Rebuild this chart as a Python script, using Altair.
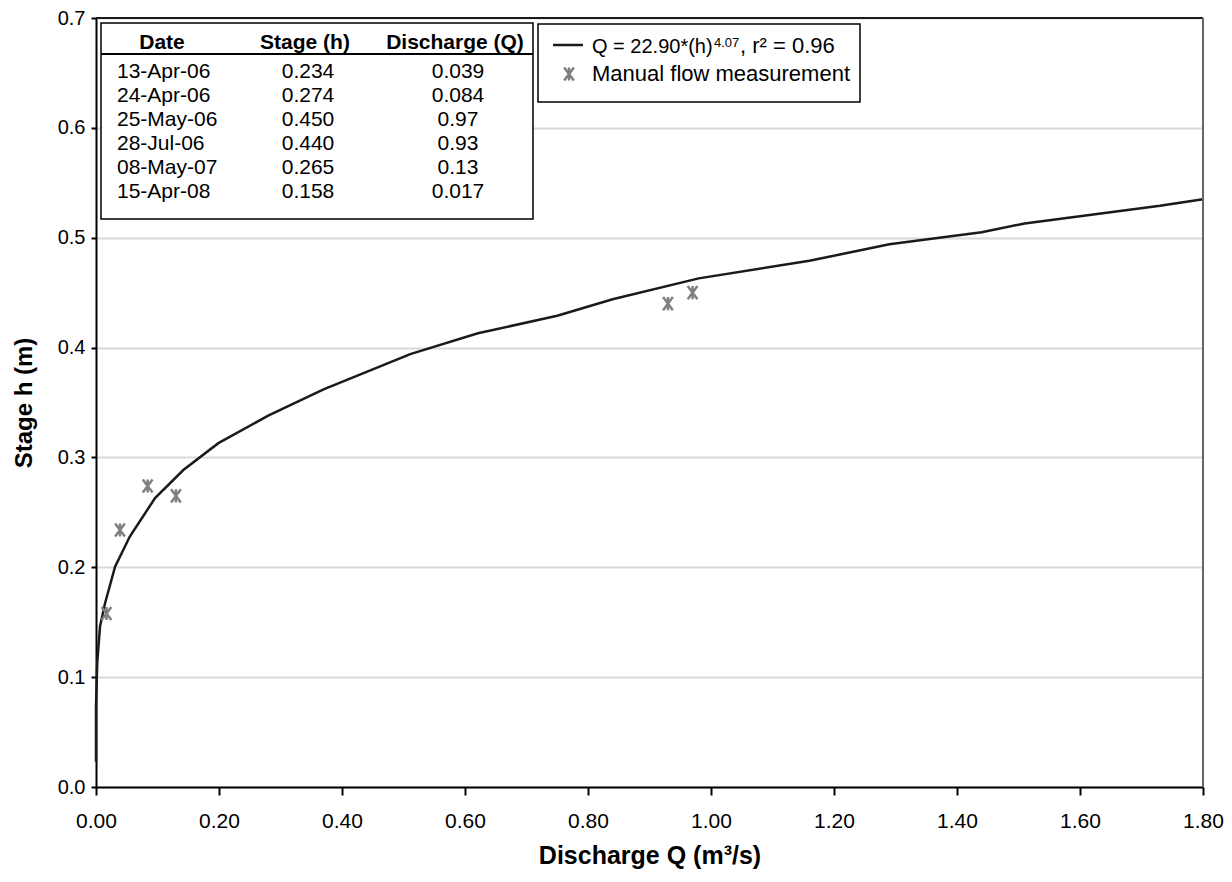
import altair as alt
import pandas as pd

# ---- manual flow measurements (table + points) ----
dates = ["13-Apr-06", "24-Apr-06", "25-May-06", "28-Jul-06", "08-May-07", "15-Apr-08"]
stage = [0.234, 0.274, 0.450, 0.440, 0.265, 0.158]
discharge = [0.039, 0.084, 0.97, 0.93, 0.13, 0.017]
stage_txt = ["0.234", "0.274", "0.450", "0.440", "0.265", "0.158"]
discharge_txt = ["0.039", "0.084", "0.97", "0.93", "0.13", "0.017"]

# ---- rating curve vertices ----
curve_q = [0.0, 0.0, 0.002, 0.0065, 0.0146, 0.031, 0.055, 0.096, 0.142, 0.199,
           0.28, 0.37, 0.511, 0.621, 0.75, 0.84, 0.98, 1.16, 1.29, 1.44, 1.51, 1.73, 1.80]
curve_h = [0.023, 0.073, 0.113, 0.146, 0.167, 0.2005, 0.228, 0.263, 0.2885, 0.313,
           0.338, 0.362, 0.394, 0.413, 0.429, 0.444, 0.463, 0.479, 0.494, 0.505, 0.513, 0.529, 0.535]

x_ticks = [0.0, 0.2, 0.4, 0.6, 0.8, 1.0, 1.2, 1.4, 1.6, 1.8]
y_ticks = [0.0, 0.1, 0.2, 0.3, 0.4, 0.5, 0.6, 0.7]

headers = ["Date", "Stage (h)", "Discharge (Q)"]
legend_line_label = "Q = 22.90*(h)"
legend_line_sup = "4.07"
legend_line_tail = ", r\u00b2 = 0.96"
legend_point_label = "Manual flow measurement"

W, H = 1107, 769
FONT = "Liberation Sans"
ASTER = "M-0.75,-1L0.75,1M-0.75,1L0.75,-1M0,-1L0,1"

curve = pd.DataFrame({"Q": curve_q, "h": curve_h})
pts = pd.DataFrame({"Q": discharge, "h": stage})
table = pd.DataFrame({"row": list(range(len(dates))), "date": dates,
                      "stage": stage_txt, "disc": discharge_txt})
one = pd.DataFrame({"k": [0]})

xscale = alt.Scale(domain=[0, 1.8], nice=False, zero=False)
yscale = alt.Scale(domain=[0, 0.7], nice=False, zero=False)

xaxis = alt.Axis(values=x_ticks, format=".2f", title="Discharge Q (m\u00b3/s)",
                 grid=False, labelFontSize=21, labelColor="black", labelFont=FONT,
                 labelFlush=False, labelOverlap=False,
                 tickSize=8, tickWidth=2, tickColor="black", domainColor="black",
                 domainWidth=2, labelPadding=15, titleFontSize=25, titleFont=FONT,
                 titleFontWeight="bold", titleColor="black", titlePadding=12)
yaxis = alt.Axis(values=y_ticks, format=".1f", title="Stage h (m)",
                 grid=True, gridColor="#d9d9d9", gridWidth=2,
                 labelFontSize=20, labelColor="black", labelFont=FONT,
                 labelFlush=False, labelOverlap=False,
                 tickSize=5, tickWidth=2, tickColor="black", domainColor="black",
                 domainWidth=2, labelPadding=6, titleFontSize=24, titleFont=FONT,
                 titleFontWeight="bold", titleColor="black", titlePadding=21)

line = alt.Chart(curve).mark_line(color="#1a1a1a", strokeWidth=2.5).encode(
    x=alt.X("Q:Q", scale=xscale, axis=xaxis),
    y=alt.Y("h:Q", scale=yscale, axis=yaxis),
    order="Q:Q",
)
points = alt.Chart(pts).mark_point(shape=ASTER, filled=False, stroke="#808080",
                                   strokeWidth=2.5, size=170, opacity=1).encode(
    x="Q:Q", y="h:Q")

# frame (top and right)
top_rule = alt.Chart(one).mark_rule(color="#1a1a1a", strokeWidth=2).encode(
    x=alt.value(0), x2=alt.value(W), y=alt.value(0))
right_rule = alt.Chart(one).mark_rule(color="#666666", strokeWidth=2).encode(
    x=alt.value(W), y=alt.value(0), y2=alt.value(H))

# ---- table ----
tab_box = alt.Chart(one).mark_rect(fill="white", stroke="black", strokeWidth=1.5).encode(
    x=alt.value(5), x2=alt.value(437), y=alt.value(5), y2=alt.value(201))
tab_rule = alt.Chart(one).mark_rule(color="black", strokeWidth=2).encode(
    x=alt.value(5), x2=alt.value(437), y=alt.value(36))
hdr_x = [66, 209, 359]
hdr_layers = [
    alt.Chart(one).mark_text(text=t, font=FONT, fontSize=21, fontWeight="bold",
                             align="center", baseline="middle", color="black").encode(
        x=alt.value(xx), y=alt.value(25))
    for t, xx in zip(headers, hdr_x)
]
tbase = alt.Chart(table).transform_calculate(ty="54 + 24*datum.row")
col_date = tbase.mark_text(font=FONT, fontSize=21, align="left", baseline="middle",
                           color="black").encode(
    x=alt.value(21), y=alt.Y("ty:Q", scale=None, axis=None), text="date:N")
col_stage = tbase.mark_text(font=FONT, fontSize=21, align="center", baseline="middle",
                            color="black").encode(
    x=alt.value(212), y=alt.Y("ty:Q", scale=None, axis=None), text="stage:N")
col_disc = tbase.mark_text(font=FONT, fontSize=21, align="center", baseline="middle",
                           color="black").encode(
    x=alt.value(362), y=alt.Y("ty:Q", scale=None, axis=None), text="disc:N")

# ---- legend ----
leg_box = alt.Chart(one).mark_rect(fill="white", stroke="black", strokeWidth=1.5).encode(
    x=alt.value(442), x2=alt.value(764), y=alt.value(6), y2=alt.value(84))
leg_line = alt.Chart(one).mark_rule(color="#1a1a1a", strokeWidth=2.5).encode(
    x=alt.value(457), x2=alt.value(487), y=alt.value(27))
leg_pt = alt.Chart(one).mark_point(shape=ASTER, filled=False, stroke="#808080",
                                   strokeWidth=2.5, size=170, opacity=1).encode(
    x=alt.value(473), y=alt.value(56))
leg_t1 = alt.Chart(one).mark_text(text=legend_line_label, font=FONT, fontSize=20,
                                  align="left", baseline="alphabetic", color="black").encode(
    x=alt.value(496), y=alt.value(34.5))
leg_t2 = alt.Chart(one).mark_text(text=legend_line_sup, font=FONT, fontSize=13,
                                  align="left", baseline="alphabetic", color="black").encode(
    x=alt.value(618), y=alt.value(29))
leg_t3 = alt.Chart(one).mark_text(text=legend_line_tail, font=FONT, fontSize=22,
                                  align="left", baseline="alphabetic", color="black").encode(
    x=alt.value(644), y=alt.value(34.5))
leg_t4 = alt.Chart(one).mark_text(text=legend_point_label, font=FONT, fontSize=22,
                                  align="left", baseline="middle", color="black").encode(
    x=alt.value(496), y=alt.value(56))

chart = alt.layer(
    line, points, top_rule, right_rule,
    tab_box, tab_rule, *hdr_layers, col_date, col_stage, col_disc,
    leg_box, leg_line, leg_pt, leg_t1, leg_t2, leg_t3, leg_t4,
).properties(
    width=W, height=H,
    autosize=alt.AutoSizeParams(type="none"),
    padding={"left": 88, "top": 10, "right": 21, "bottom": 87},
).configure_view(stroke=None).configure(font=FONT, background="white")

chart.save("out.html", embed_options={"renderer": "svg", "actions": False})
